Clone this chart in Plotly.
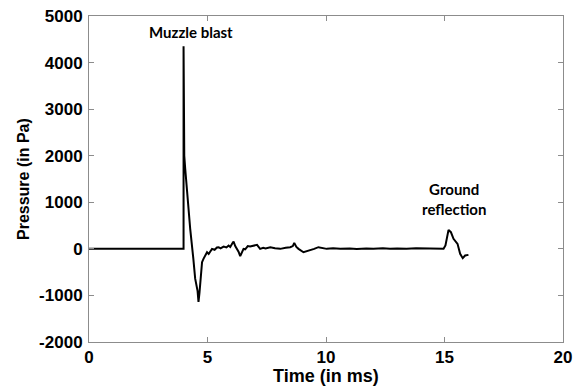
import plotly.graph_objects as go

time_ms = [0.0, 1.0, 2.0, 3.0, 3.99, 3.99, 4.02, 4.06, 4.15, 4.27, 4.4, 4.48, 4.58, 4.62, 4.66,
           4.69, 4.74, 4.77, 4.83, 4.9, 4.98, 5.05, 5.12, 5.19, 5.3, 5.4, 5.47, 5.55, 5.68, 5.8,
           5.89, 5.96, 6.05, 6.1, 6.17, 6.24, 6.31, 6.38, 6.45, 6.52, 6.59, 6.7, 6.8, 6.93,
           7.09, 7.22, 7.35, 7.45, 7.65, 7.85, 8.07, 8.3, 8.49, 8.6, 8.66, 8.75, 8.84, 9.05,
           9.2, 9.33, 9.5, 9.68, 10.03, 10.3, 10.6, 11.0, 11.3, 11.7, 12.0, 12.4, 12.7,
           13.0, 13.4, 13.8, 14.2, 14.6, 14.96, 15.04, 15.17, 15.27, 15.38, 15.55, 15.66,
           15.77, 15.87, 16.01]
pressure_pa = [0, 0, 0, 0, 0, 4350, 2000, 1720, 1100, 430, -200, -640, -900, -1140, -950,
               -715, -500, -286, -215, -160, -72, -110, -40, 0, -20, 30, 36, 10, 50, 30,
               72, 40, 120, 157, 60, 0, -60, -157, -60, 0, -10, 60, 50, 72,
               86, 0, 25, 10, 36, 15, 0, 25, 36, 60, 129, 40, 0, -72,
               -50, -36, 0, 36, 0, 15, 0, 10, -5, 10, 0, 15, 0,
               10, 0, 15, 5, 10, 0, 72, 408, 358, 215, 107, -107,
               -200, -143, -129]

x_ticks = [0, 5, 10, 15, 20]
y_ticks = [-2000, -1000, 0, 1000, 2000, 3000, 4000, 5000]

tick_font = dict(family="Liberation Sans", size=17, color="black")

fig = go.Figure()
fig.add_trace(go.Scatter(x=time_ms, y=pressure_pa, mode="lines",
                         line=dict(color="black", width=2), showlegend=False))

axis_common = dict(showline=True, mirror="ticks", linecolor="#8c8c8c", linewidth=1,
                   ticks="inside", ticklen=5, tickcolor="#8c8c8c", showgrid=False,
                   zeroline=False, tickfont=tick_font, automargin=False)

fig.update_layout(
    width=576, height=386,
    margin=dict(l=89, r=13, t=16, b=44, autoexpand=False),
    plot_bgcolor="white", paper_bgcolor="white",
    xaxis=dict(range=[0, 20], tickvals=x_ticks,
               ticktext=[f"<b>{v}</b>" for v in x_ticks], **axis_common),
    yaxis=dict(range=[-2000, 5000], tickvals=y_ticks,
               ticktext=[f"<b>{v}</b>" for v in y_ticks], ticklabelstandoff=2,
               **axis_common),
    annotations=[
        dict(text="<b>Time (in ms)</b>", xref="paper", yref="paper", x=0.5, y=0,
             yshift=-34, showarrow=False, yanchor="middle",
             font=dict(family="Liberation Sans", size=18, color="black")),
        dict(text="<b>Pressure (in Pa)</b>", xref="paper", yref="paper", x=0, xshift=-66,
             y=0.5, textangle=-90, showarrow=False, xanchor="center",
             font=dict(family="Liberation Sans", size=16, color="black")),
        dict(text="<b>Muzzle blast</b>", xref="x", yref="paper", x=4.32, y=1,
             yshift=-16, showarrow=False, yanchor="middle",
             font=dict(family="Lato", size=15, color="black")),
        dict(text="<b>Ground<br>reflection</b>", xref="x", yref="y", x=15.38, y=1080,
             showarrow=False, yanchor="middle",
             font=dict(family="Lato", size=15, color="black")),
    ],
)

fig.write_html("out.html")
